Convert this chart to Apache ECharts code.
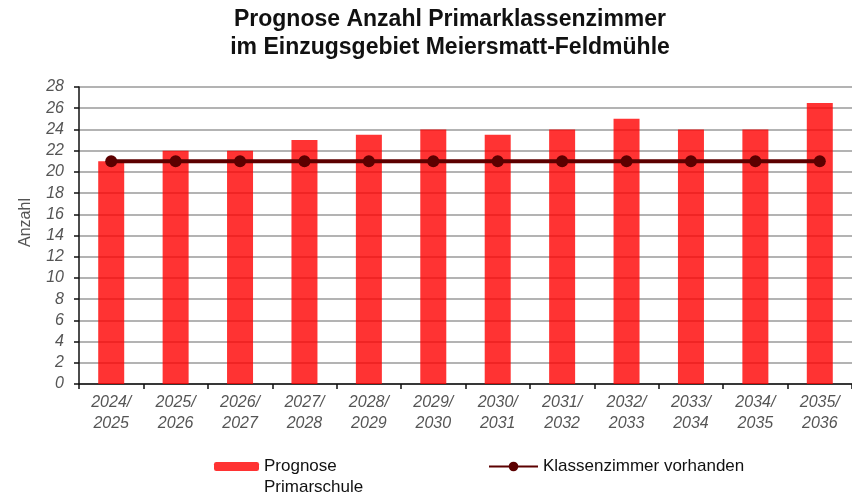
<!DOCTYPE html>
<html>
<head>
<meta charset="utf-8">
<script src="https://cdn.jsdelivr.net/npm/echarts@6/dist/echarts.min.js"></script>
<style>
  html, body { margin: 0; padding: 0; background: #fff; }
  #chart { width: 852px; height: 495px; }
</style>
</head>
<body>
<div id="chart"></div>
<script>
// Daten
var schuljahre = ['2024/\n2025', '2025/\n2026', '2026/\n2027', '2027/\n2028', '2028/\n2029', '2029/\n2030',
                  '2030/\n2031', '2031/\n2032', '2032/\n2033', '2033/\n2034', '2034/\n2035', '2035/\n2036'];
var prognose = [21, 22, 22, 23, 23.5, 24, 23.5, 24, 25, 24, 24, 26.5];
var vorhanden = [21, 21, 21, 21, 21, 21, 21, 21, 21, 21, 21, 21];

var chart = echarts.init(document.getElementById('chart'));

var option = {
    animation: false,
    backgroundColor: '#fff',
    textStyle: { fontFamily: 'Liberation Sans, Arial, sans-serif' },
    title: {
        text: 'Prognose Anzahl Primarklassenzimmer\nim Einzugsgebiet Meiersmatt-Feldmühle',
        left: 445,
        top: 1,
        textAlign: 'center',
        textStyle: { fontSize: 23, fontWeight: 'bold', color: '#111', lineHeight: 28 }
    },
    legend: [
        {
            data: ['Prognose Primarschule'],
            left: 209,
            top: 453,
            itemWidth: 45,
            itemHeight: 9,
            itemGap: 6,
            formatter: function () { return 'Prognose'; },
            textStyle: { fontSize: 17, color: '#111' }
        },
        {
            data: ['Klassenzimmer vorhanden'],
            left: 483,
            top: 453,
            itemWidth: 49,
            itemHeight: 12,
            itemGap: 2,
            textStyle: { fontSize: 17, color: '#111' }
        }
    ],
    graphic: [
        {
            // zweite Zeile der ersten Legende
            type: 'text',
            left: 264,
            top: 479,
            style: { text: 'Primarschule', fontSize: 17, fill: '#111', fontFamily: 'Liberation Sans, Arial, sans-serif' }
        }
    ],
    grid: { left: 79, right: -7, top: 87, bottom: 111, containLabel: false },
    xAxis: {
        type: 'category',
        data: schuljahre,
        axisLine: { lineStyle: { color: '#111', width: 1.5 } },
        axisTick: { show: true, length: 5, lineStyle: { color: '#111', width: 1.5 } },
        axisLabel: { fontSize: 16, fontStyle: 'italic', color: '#555', lineHeight: 21, margin: 8, interval: 0 }
    },
    yAxis: {
        type: 'value',
        min: 0,
        max: 28,
        interval: 2,
        name: 'Anzahl',
        nameLocation: 'middle',
        nameGap: 45,
        nameTextStyle: { fontSize: 16, color: '#555', padding: [0, 0, 0, 26] },
        axisLine: { show: true, lineStyle: { color: '#111', width: 1.5 } },
        axisTick: { show: true, length: 5, lineStyle: { color: '#111', width: 1.5 } },
        axisLabel: { fontSize: 16, fontStyle: 'italic', color: '#555', margin: 15 },
        splitLine: { lineStyle: { color: '#9a9a9a', width: 1.5 } }
    },
    series: [
        {
            name: 'Prognose Primarschule',
            type: 'bar',
            data: prognose,
            barWidth: 26,
            itemStyle: { color: 'rgba(255, 0, 0, 0.8)' }
        },
        {
            name: 'Klassenzimmer vorhanden',
            type: 'line',
            data: vorhanden,
            symbol: 'circle',
            symbolSize: 12,
            lineStyle: { color: '#5c0000', width: 4 },
            itemStyle: { color: '#5c0000' }
        }
    ]
};

chart.setOption(option);
</script>
</body>
</html>
